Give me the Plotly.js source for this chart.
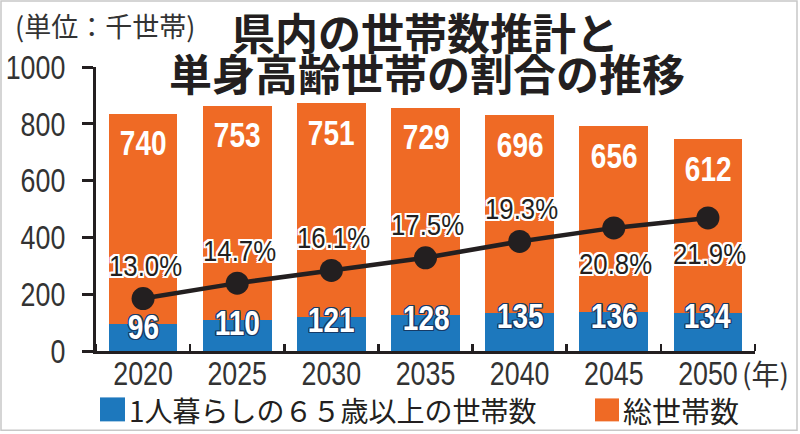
<!DOCTYPE html>
<html>
<head>
<meta charset="utf-8">
<script src="https://cdn.plot.ly/plotly-3.0.1.min.js"></script>
<style>
  html, body { margin: 0; padding: 0; background: #fff; }
  #plot { width: 800px; height: 434px; }
</style>
</head>
<body>
<div id="plot"></div>
<script>
    // 年次
    const years = ['2020', '2025', '2030', '2035', '2040', '2045', '2050'];
    // 1人暮らしの65歳以上の世帯数（千世帯）
    const singleElderly = [96, 110, 121, 128, 135, 136, 134];
    // 総世帯数（千世帯）
    const totalHouseholds = [740, 753, 751, 729, 696, 656, 612];
    // 単身高齢世帯の割合（%）
    const ratio = [13.0, 14.7, 16.1, 17.5, 19.3, 20.8, 21.9];
    const ratioLabels = ['13.0%', '14.7%', '16.1%', '17.5%', '19.3%', '20.8%', '21.9%'];
    const yTicks = [0, 200, 400, 600, 800, 1000];

    const ORANGE = '#ef6a25';
    const BLUE = '#1d78bd';
    const INK = '#231f20';
    const NUM_FONT = '"Liberation Sans", Arial, sans-serif';
    const JP_FONT = '"Noto Sans CJK JP", "Noto Sans", sans-serif';

    // plot area in pixels
    const plotL = 96, plotR = 755, plotTop = 67, plotBot = 351.5;
    function px(p) { return (p - plotL) / (plotR - plotL); }
    function py(p) { return (plotBot - p) / (plotBot - plotTop); }

    // x は年次のインデックス
    const xs = years.map(function (_, i) { return i; });
    const bounds = years.concat(['']).map(function (_, i) { return i - 0.5; });

    function halo(color, w) {
        var s = [];
        [[w, 0], [-w, 0], [0, w], [0, -w], [w, w], [-w, -w], [w, -w], [-w, w]].forEach(function (d) {
            s.push(d[0] + 'px ' + d[1] + 'px 0 ' + color);
        });
        return s.join(', ');
    }

    const traces = [
        {
            type: 'bar', name: '1人暮らしの６５歳以上の世帯数',
            x: xs, y: singleElderly,
            marker: { color: BLUE },
            hoverinfo: 'skip'
        },
        {
            type: 'bar', name: '総世帯数',
            x: xs, y: totalHouseholds,
            marker: { color: ORANGE },
            hoverinfo: 'skip'
        },
        {
            type: 'scatter', mode: 'lines+markers',
            x: xs, y: ratio, yaxis: 'y2',
            line: { color: INK, width: 4.5 },
            marker: { color: INK, size: 23 },
            hoverinfo: 'skip'
        }
    ];

    const annotations = [];

    xs.forEach(function (x, i) {
        // 総世帯数ラベル
        annotations.push({
            x: x, y: singleElderly[i] + totalHouseholds[i], xref: 'x', yref: 'y',
            text: String(totalHouseholds[i]), showarrow: false,
            yanchor: 'middle', yshift: -29,
            font: { family: NUM_FONT, size: 35, color: '#fff', weight: 'bold' }
        });
        // 単身高齢世帯ラベル
        annotations.push({
            x: x, y: singleElderly[i], xref: 'x', yref: 'y',
            text: String(singleElderly[i]), showarrow: false,
            yanchor: 'middle', yshift: -3,
            font: { family: NUM_FONT, size: 35, color: '#fff', weight: 'bold', shadow: halo('#163a66', 1.3) }
        });
        // 割合ラベル（最後の2つは点の下）
        const below = i >= 5;
        annotations.push({
            x: x, y: ratio[i], xref: 'x', yref: 'y2',
            text: ratioLabels[i], showarrow: false,
            yanchor: 'middle', yshift: below ? -36 : 33, xshift: 2,
            font: { family: NUM_FONT, size: 30, color: INK, shadow: halo('#fff', 2) }
        });
    });

    // タイトルなど
    annotations.push(
        {
            xref: 'paper', yref: 'paper', x: px(425), y: py(31),
            text: '県内の世帯数推計と', showarrow: false, xanchor: 'center', yanchor: 'middle',
            font: { family: JP_FONT, size: 43, color: INK, weight: 'bold' }
        },
        {
            xref: 'paper', yref: 'paper', x: px(427), y: py(72),
            text: '単身高齢世帯の割合の推移', showarrow: false, xanchor: 'center', yanchor: 'middle',
            font: { family: JP_FONT, size: 43, color: INK, weight: 'bold' }
        },
        {
            xref: 'paper', yref: 'paper', x: px(13), y: py(25),
            text: '(単位：千世帯)', showarrow: false, xanchor: 'left', yanchor: 'middle',
            font: { family: JP_FONT, size: 27, color: '#333' }
        },
        {
            xref: 'paper', yref: 'paper', x: px(740), y: py(374),
            text: '(年)', showarrow: false, xanchor: 'left', yanchor: 'middle',
            font: { family: JP_FONT, size: 28, color: '#333' }
        },
        {
            xref: 'paper', yref: 'paper', x: px(127), y: py(410.5),
            text: traces[0].name, showarrow: false, xanchor: 'left', yanchor: 'middle',
            font: { family: JP_FONT, size: 28, color: INK }
        },
        {
            xref: 'paper', yref: 'paper', x: px(621), y: py(410.5),
            text: traces[1].name, showarrow: false, xanchor: 'left', yanchor: 'middle',
            font: { family: JP_FONT, size: 29, color: INK }
        }
    );

    const shapes = [
        // 凡例の四角
        { type: 'rect', xref: 'paper', yref: 'paper', x0: px(100), x1: px(125), y0: py(398), y1: py(422),
          fillcolor: BLUE, line: { width: 0 } },
        { type: 'rect', xref: 'paper', yref: 'paper', x0: px(595), x1: px(619), y0: py(399), y1: py(422),
          fillcolor: ORANGE, line: { width: 0 } },
        // 外枠
        { type: 'rect', xref: 'paper', yref: 'paper', x0: px(1), x1: px(797), y0: py(1), y1: py(431),
          line: { color: '#c8c8c8', width: 1.5 }, layer: 'below' }
    ];

    const layout = {
        width: 800, height: 434,
        margin: { l: plotL, r: 800 - plotR, t: plotTop, b: 434 - plotBot },
        paper_bgcolor: '#fff', plot_bgcolor: '#fff',
        barmode: 'stack', bargap: 0.27,
        showlegend: false,
        xaxis: {
            range: [-0.5, years.length - 0.5],
            tickmode: 'array', tickvals: xs, ticktext: years,
            showline: true, linecolor: INK, linewidth: 3,
            ticks: '', ticklen: 0,
            minor: { tickmode: 'array', tickvals: bounds, ticks: 'inside', ticklen: 7, tickwidth: 2.5, tickcolor: INK, showgrid: false },
            tickfont: { family: NUM_FONT, size: 33.5, color: '#333' },
            ticklabelstandoff: -9,
            showgrid: false, zeroline: false, fixedrange: true
        },
        yaxis: {
            range: [0, 1000], tickmode: 'array', tickvals: yTicks,
            showline: true, linecolor: INK, linewidth: 3,
            ticks: 'outside', ticklen: 11, tickwidth: 3, tickcolor: INK,
            tickfont: { family: NUM_FONT, size: 33.5, color: '#333' },
            ticklabelstandoff: 10,
            showgrid: false, zeroline: false, fixedrange: true
        },
        yaxis2: {
            overlaying: 'y', side: 'right', range: [7.21, 38.56],
            visible: false, showgrid: false, zeroline: false, fixedrange: true
        },
        annotations: annotations,
        shapes: shapes
    };

    // 数字は縦長の書体なので横方向に詰める
    function condense(gd) {
        gd.querySelectorAll('.xtick text, .ytick text, .annotation-text').forEach(function (t) {
            var s = t.textContent;
            if (!/^[\d.%]+$/.test(s)) return;
            var k = s.indexOf('%') >= 0 ? 0.86 : 0.8;
            var w = t.getComputedTextLength();
            t.setAttribute('textLength', (w * k).toFixed(1));
            t.setAttribute('lengthAdjust', 'spacingAndGlyphs');
        });
    }

    Plotly.newPlot('plot', traces, layout, { displayModeBar: false, staticPlot: true })
        .then(condense);
</script>
</body>
</html>
